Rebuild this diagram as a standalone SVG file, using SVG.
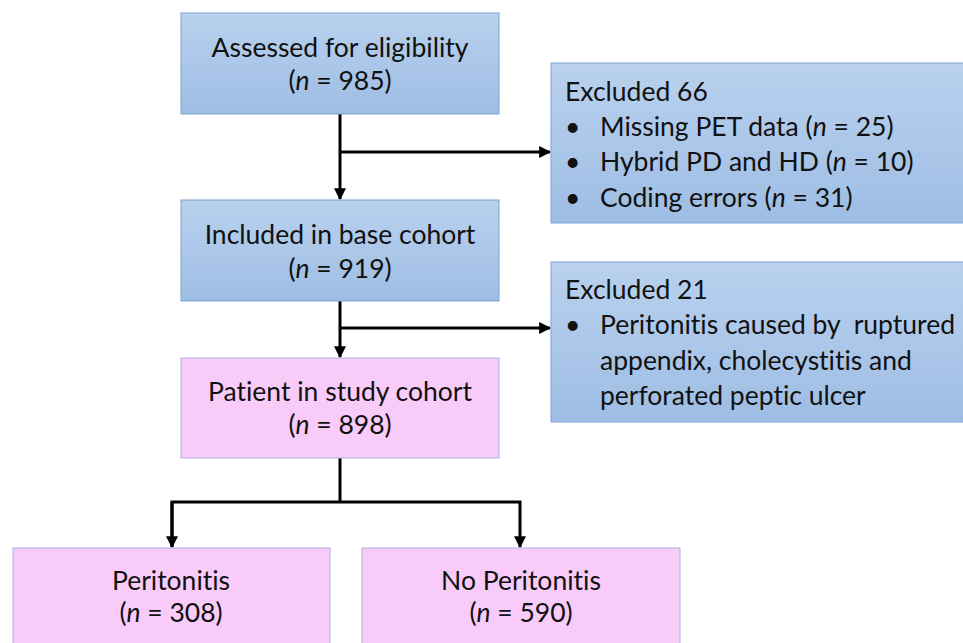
<svg xmlns="http://www.w3.org/2000/svg" width="963" height="643" viewBox="0 0 963 643">
<defs>
<linearGradient id="blue" x1="0" y1="0" x2="0" y2="1">
<stop offset="0" stop-color="#b9d1ee"/>
<stop offset="1" stop-color="#9ebde4"/>
</linearGradient>
<marker id="arr" viewBox="0 0 10 10" refX="9" refY="5" markerWidth="4" markerHeight="4" orient="auto" markerUnits="strokeWidth">
<path d="M0,0 L10,5 L0,10 Z" fill="#000"/>
</marker>
<style>
.b{fill:url(#blue);stroke:#7fa3d1;stroke-width:1}
.p{fill:#f9cbf9;stroke:#a9b0db;stroke-width:1}
text{font-family:Lato,"Open Sans","Liberation Sans",sans-serif;font-size:26.5px;fill:#111;font-variant-ligatures:none}
.c{text-anchor:middle}
.ln{fill:none;stroke:#000;stroke-width:3}
</style>
</defs>
<rect width="963" height="643" fill="#fff"/>
<g id="connectors">
<line class="ln" x1="340" y1="114" x2="340" y2="199" marker-end="url(#arr)"/>
<line class="ln" x1="340" y1="152" x2="550" y2="152" marker-end="url(#arr)"/>
<line class="ln" x1="340" y1="301" x2="340" y2="357" marker-end="url(#arr)"/>
<line class="ln" x1="340" y1="328" x2="550" y2="328" marker-end="url(#arr)"/>
<polyline class="ln" points="340,458 340,502"/>
<polyline class="ln" points="172,547 172,502 520,502 520,547" marker-end="url(#arr)"/>
<line class="ln" x1="172" y1="502" x2="172" y2="547" marker-end="url(#arr)"/>
</g>
<g id="assessed">
<rect class="b" x="181" y="13" width="318" height="101"/>
<text class="c" x="340" y="57">Assessed for eligibility</text>
<text class="c" x="340" y="90">(<tspan font-style="italic">n</tspan> = 985)</text>
</g>
<g id="excluded66">
<rect class="b" x="551" y="63" width="420" height="160"/>
<text x="565" y="101">Excluded 66</text>
<text x="565" y="136">•</text><text x="600" y="136">Missing PET data (<tspan font-style="italic">n</tspan> = 25)</text>
<text x="565" y="171">•</text><text x="600" y="171">Hybrid PD and HD (<tspan font-style="italic">n</tspan> = 10)</text>
<text x="565" y="207">•</text><text x="600" y="207">Coding errors (<tspan font-style="italic">n</tspan> = 31)</text>
</g>
<g id="base">
<rect class="b" x="181" y="200" width="318" height="101"/>
<text class="c" x="340" y="244">Included in base cohort</text>
<text class="c" x="340" y="278">(<tspan font-style="italic">n</tspan> = 919)</text>
</g>
<g id="excluded21">
<rect class="b" x="551" y="262" width="420" height="160"/>
<text x="565" y="299">Excluded 21</text>
<text x="565" y="334">•</text><text x="600" y="334" xml:space="preserve">Peritonitis caused by  ruptured</text>
<text x="600" y="370">appendix, cholecystitis and</text>
<text x="600" y="405">perforated peptic ulcer</text>
</g>
<g id="study">
<rect class="p" x="181" y="358" width="318" height="100"/>
<text class="c" x="340" y="401">Patient in study cohort</text>
<text class="c" x="340" y="434">(<tspan font-style="italic">n</tspan> = 898)</text>
</g>
<g id="peritonitis">
<rect class="p" x="13" y="548" width="317" height="110"/>
<text class="c" x="171" y="590">Peritonitis</text>
<text class="c" x="171" y="622">(<tspan font-style="italic">n</tspan> = 308)</text>
</g>
<g id="nopc">
<rect class="p" x="362" y="548" width="318" height="110"/>
<text class="c" x="521" y="590">No Peritonitis</text>
<text class="c" x="521" y="622">(<tspan font-style="italic">n</tspan> = 590)</text>
</g>
</svg>
